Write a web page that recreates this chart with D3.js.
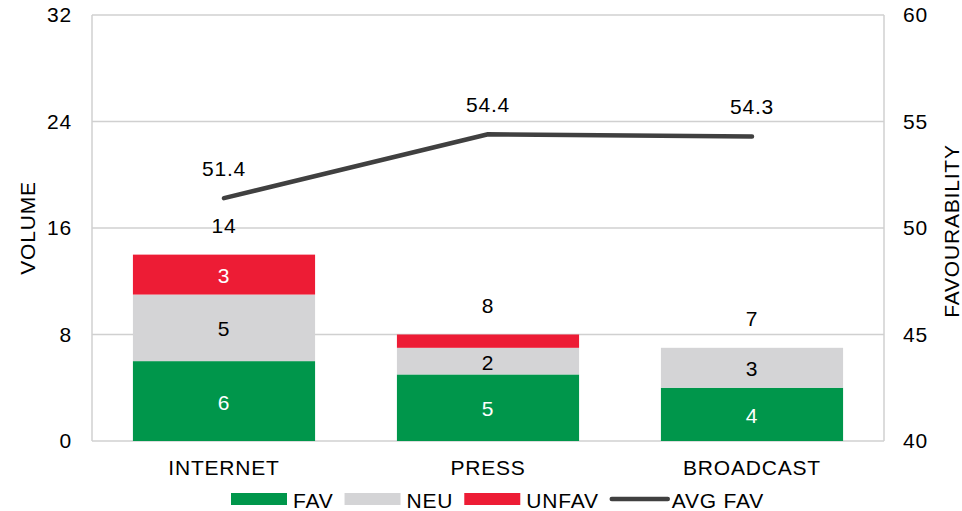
<!DOCTYPE html>
<html>
<head>
<meta charset="utf-8">
<script src="https://cdn.jsdelivr.net/npm/d3@7"></script>
<style>
  html, body { margin: 0; padding: 0; background: #fff; }
  svg { display: block; font-family: "Liberation Sans", Arial, sans-serif; }
  svg text { letter-spacing: 0.8px; }
</style>
</head>
<body>
<svg id="chart" width="962" height="511"></svg>
<script>
const categories = ["INTERNET", "PRESS", "BROADCAST"];
const fav = [6, 5, 4];
const neu = [5, 2, 3];
const unfav = [3, 1, 0];
const avgFav = [51.4, 54.4, 54.3];
const leftTicks = [0, 8, 16, 24, 32];
const rightTicks = [40, 45, 50, 55, 60];
const seriesNames = ["FAV", "NEU", "UNFAV"];
const seriesColors = ["#00964B", "#D4D4D6", "#ED1C35"];
const seriesTextColors = ["#ffffff", "#000000", "#ffffff"];
const lineName = "AVG FAV";
const lineColor = "#404040";

(function () {
const svg = d3.select("#chart");
const FS = 21;
const pL = 92, pR = 884, pT = 15, pB = 441;

const x = d3.scaleBand().domain(categories).range([pL, pR]).paddingInner(0.31).paddingOuter(0.155);
const yL = d3.scaleLinear().domain([0, 32]).range([pB, pT]);
const yR = d3.scaleLinear().domain([40, 60]).range([pB, pT]);

svg.append("g").selectAll("line").data(leftTicks).join("line")
  .attr("x1", pL).attr("x2", pR)
  .attr("y1", d => yL(d)).attr("y2", d => yL(d))
  .attr("stroke", "#D0D0D0").attr("stroke-width", 1.5);
svg.append("line").attr("x1", pL).attr("x2", pL).attr("y1", pT).attr("y2", pB)
  .attr("stroke", "#D0D0D0").attr("stroke-width", 1.5);
svg.append("line").attr("x1", pR).attr("x2", pR).attr("y1", pT).attr("y2", pB)
  .attr("stroke", "#D0D0D0").attr("stroke-width", 1.5);

const axL = svg.append("g").attr("transform", `translate(${pL - 20},0)`)
  .call(d3.axisLeft(yL).tickValues(leftTicks).tickSize(0).tickPadding(0));
const axR = svg.append("g").attr("transform", `translate(${pR + 19},0)`)
  .call(d3.axisRight(yR).tickValues(rightTicks).tickSize(0).tickPadding(0));
const axB = svg.append("g").attr("transform", `translate(0,${pB + 26})`)
  .call(d3.axisBottom(x).tickSize(0).tickPadding(0));
[axL, axR, axB].forEach(a => {
  a.select(".domain").remove();
  a.selectAll("text").attr("font-size", FS).attr("fill", "#000")
    .attr("font-family", '"Liberation Sans", Arial, sans-serif');
});
axB.selectAll("text").attr("dy", null).attr("dominant-baseline", "central");

svg.append("text").attr("transform", `translate(27,${(pT + pB) / 2}) rotate(-90)`)
  .attr("text-anchor", "middle").attr("dominant-baseline", "central")
  .attr("font-size", FS).text("VOLUME");
svg.append("text").attr("transform", `translate(951,${(pT + pB) / 2 + 3}) rotate(-90)`)
  .attr("text-anchor", "middle").attr("dominant-baseline", "central")
  .attr("font-size", FS).text("FAVOURABILITY");

const rows = categories.map((c, i) => ({ cat: c, FAV: fav[i], NEU: neu[i], UNFAV: unfav[i] }));
const stack = d3.stack().keys(seriesNames)(rows);
const gBars = svg.append("g");
stack.forEach((layer, si) => {
  gBars.append("g").selectAll("rect").data(layer).join("rect")
    .attr("x", d => x(d.data.cat))
    .attr("width", x.bandwidth())
    .attr("y", d => yL(d[1]))
    .attr("height", d => yL(d[0]) - yL(d[1]))
    .attr("fill", seriesColors[si]);
  gBars.append("g").selectAll("text").data(layer.filter(d => d[1] - d[0] > 1)).join("text")
    .attr("x", d => x(d.data.cat) + x.bandwidth() / 2)
    .attr("y", d => (yL(d[0]) + yL(d[1])) / 2 + 1)
    .attr("text-anchor", "middle").attr("dominant-baseline", "central")
    .attr("font-size", FS).attr("fill", seriesTextColors[si])
    .text(d => d[1] - d[0]);
});
svg.append("g").selectAll("text").data(rows).join("text")
  .attr("x", d => x(d.cat) + x.bandwidth() / 2)
  .attr("y", d => yL(d.FAV + d.NEU + d.UNFAV) - 29)
  .attr("text-anchor", "middle").attr("dominant-baseline", "central")
  .attr("font-size", FS).attr("fill", "#000")
  .text(d => d.FAV + d.NEU + d.UNFAV);

const pts = categories.map((c, i) => ({ cat: c, v: avgFav[i] }));
svg.append("path").datum(pts)
  .attr("d", d3.line().x(d => x(d.cat) + x.bandwidth() / 2).y(d => yR(d.v)))
  .attr("fill", "none").attr("stroke", lineColor).attr("stroke-width", 4.5)
  .attr("stroke-linecap", "round").attr("stroke-linejoin", "round");
svg.append("g").selectAll("text").data(pts).join("text")
  .attr("x", d => x(d.cat) + x.bandwidth() / 2)
  .attr("y", d => yR(d.v) - 30)
  .attr("text-anchor", "middle").attr("dominant-baseline", "central")
  .attr("font-size", FS).attr("fill", "#000")
  .text(d => d.v.toFixed(1));

const legY = 499;
let lx = 231;
const leg = svg.append("g");
const legendItems = seriesNames.map((n, i) => ({ name: n, color: seriesColors[i], type: "rect" }))
  .concat([{ name: lineName, color: lineColor, type: "line" }]);
legendItems.forEach(it => {
  if (it.type === "rect") {
    leg.append("rect").attr("x", lx).attr("y", legY - 6).attr("width", 56).attr("height", 12).attr("fill", it.color);
  } else {
    leg.append("line").attr("x1", lx + 2).attr("x2", lx + 58).attr("y1", legY).attr("y2", legY)
      .attr("stroke", it.color).attr("stroke-width", 4.5).attr("stroke-linecap", "round");
  }
  const t = leg.append("text").attr("x", lx + 62).attr("y", legY + 1)
    .attr("dominant-baseline", "central").attr("font-size", FS).attr("fill", "#000").text(it.name);
  lx = lx + 62 + t.node().getComputedTextLength() + 11;
});
})();
</script>
</body>
</html>
